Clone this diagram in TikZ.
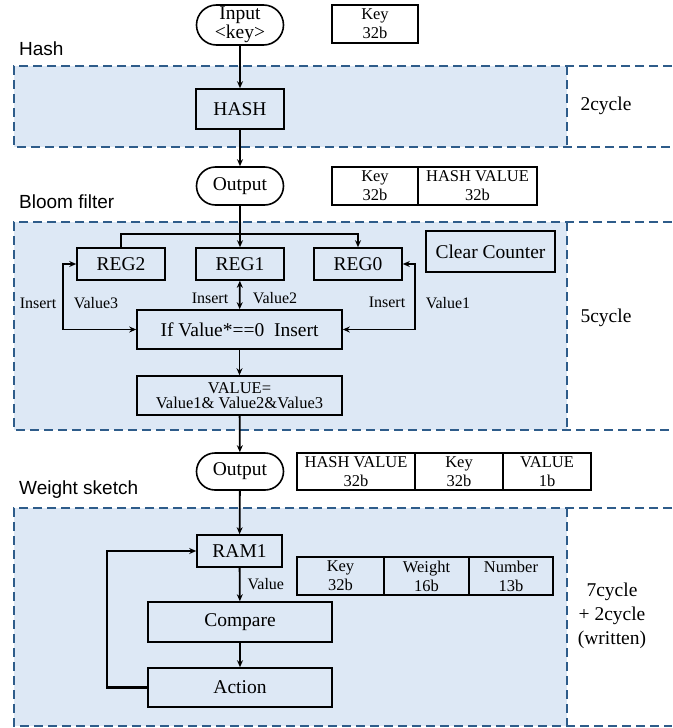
\documentclass[tikz,border=0pt]{standalone}
\usepackage{fontspec}
\setmainfont{Liberation Serif}
\newfontfamily\labelfont{Liberation Sans}
\usetikzlibrary{shapes.misc}
\usetikzlibrary{arrows.meta}
\definecolor{panelblue}{HTML}{DDE8F5}
\definecolor{dashblue}{HTML}{2E5C8A}
\tikzstyle{block}=[draw, line width=1.6pt, inner sep=2pt, font=\fontsize{19.5}{19.5}\selectfont]
\tikzstyle{terminal}=[block, rounded rectangle, minimum width=91pt, minimum height=38pt, align=center]
\tikzstyle{field}=[draw, line width=1.6pt, inner sep=0pt, outer sep=0pt, minimum height=38pt, align=center, anchor=west, font=\fontsize{16.5}{19}\selectfont]
\tikzstyle{tag}=[inner sep=0pt, font=\fontsize{16}{16}\selectfont]
\tikzstyle{stage}=[inner sep=0pt, anchor=base west, font=\labelfont\fontsize{19}{19}\selectfont]
\tikzstyle{cyclenote}=[inner sep=0pt, align=center, font=\fontsize{19.5}{24}\selectfont]
\tikzstyle{panel}=[draw=dashblue, line width=1.8pt, dash pattern=on 9pt off 5pt]
\tikzstyle{flow}=[line width=1.8pt, ->]

\begin{document}
\begin{tikzpicture}[x=1pt, y=-1pt, >={Stealth[length=7pt, width=6pt]}]
    \useasboundingbox (0,0) rectangle (672,728);
    % stage panels
    \fill[panelblue] (14,66) rectangle (567,147);
    \fill[panelblue] (14,222) rectangle (567,430);
    \fill[panelblue] (14,508) rectangle (567,726);
    \draw[panel] (672,66) -- (14,66) -- (14,147) -- (672,147);
    \draw[panel] (567,66) -- (567,147);
    \draw[panel] (672,222) -- (14,222) -- (14,430) -- (672,430);
    \draw[panel] (567,222) -- (567,430);
    \draw[panel] (672,508) -- (14,508) -- (14,726) -- (672,726);
    \draw[panel] (567,508) -- (567,726);
    \node[stage] (hashlbl)   at (19,55)  {Hash};
    \node[stage] (bloomlbl)  at (19,208) {Bloom filter};
    \node[stage] (weightlbl) at (19,494) {Weight sketch};

    % hash
    \node[terminal, minimum height=40pt, font=\fontsize{19.5}{15}\selectfont] (in) at (240,25) {Input\\<key>};
    \node[block, minimum width=88pt, minimum height=40pt] (hash) at (240,109) {HASH};
    \node[terminal] (out1) at (240,186) {Output};
    \node[field, minimum width=86pt] (key0) at (332,24) {Key\\32b};
    \node[field, minimum width=86pt] (key1) at (332,186) {Key\\32b};
    \node[field, minimum width=119pt] (hv1) at (key1.east) {HASH VALUE\\32b};
    \node[cyclenote] (c2) at (606,106) {2cycle};

    % bloom filter
    \node[block, minimum width=88pt, minimum height=32pt] (reg2) at (121,264) {REG2};
    \node[block, minimum width=88pt, minimum height=32pt] (reg1) at (240,264) {REG1};
    \node[block, minimum width=88pt, minimum height=32pt] (reg0) at (358,264) {REG0};
    \node[block, minimum width=129pt, minimum height=41pt] (clr) at (490.5,251.5) {Clear Counter};
    \node[block, minimum width=205pt, minimum height=39pt] (ifbox) at (239.5,329.5) {If Value*==0\ \ Insert};
    \node[block, minimum width=205pt, minimum height=39pt, align=center,
          font=\fontsize{16.5}{15.5}\selectfont] (valbox) at (239.5,395.5) {VALUE=\\Value1\& Value2\&Value3};
    \node[tag] (ins2) at (38,303)  {Insert};
    \node[tag] (val3) at (96,303)  {Value3};
    \node[tag] (ins1) at (210,298) {Insert};
    \node[tag] (val2) at (275,298) {Value2};
    \node[tag] (ins0) at (387,302) {Insert};
    \node[tag] (val1) at (448,303) {Value1};
    \node[cyclenote] (c5) at (606,318) {5cycle};

    % weight sketch
    \node[terminal, minimum height=37pt] (out2) at (240,471.5) {Output};
    \node[field, minimum width=118pt, minimum height=37pt] (hv2) at (297,471.5) {HASH VALUE\\32b};
    \node[field, minimum width=88pt, minimum height=37pt] (key2) at (hv2.east) {Key\\32b};
    \node[field, minimum width=88pt, minimum height=37pt] (bit2) at (key2.east) {VALUE\\1b};
    \node[block, minimum width=85pt, minimum height=32pt] (ram) at (239.5,551) {RAM1};
    \node[field, minimum width=87pt] (key3) at (297,576) {Key\\32b};
    \node[field, minimum width=85pt] (wt3) at (key3.east) {Weight\\16b};
    \node[field, minimum width=84pt] (num3) at (wt3.east) {Number\\13b};
    \node[block, minimum width=184pt, minimum height=40pt] (cmp) at (240,622) {Compare};
    \node[block, minimum width=184pt, minimum height=39pt] (act) at (240,687.5) {Action};
    \node[cyclenote] (c7) at (612,616) {7cycle\\+ 2cycle\\(written)};

    % connectors
    \coordinate (split) at (240,234);
    \draw[flow] (in) -- (hash);
    \draw[flow] (hash) -- (out1);
    \draw[flow] (out1) -- (reg1);
    \draw[line width=1.8pt] (reg2.north) |- (split);
    \draw[flow] (split) -| (reg0.north);
    \draw[flow, <->] (reg2.west) -- ++(-13,0) |- (ifbox.west);
    \draw[flow, <->] (reg0.east) -- ++(12,0) |- (ifbox.east);
    \draw[flow, <->] (reg1) -- (ifbox);
    \draw[flow] (ifbox) -- (valbox);
    \draw[flow] (valbox) -- (out2);
    \draw[flow] (out2) -- (ram);
    \draw[flow] (ram) -- node[tag, right=7pt] {Value} (cmp);
    \draw[flow] (cmp) -- (act);
    \draw[flow, line width=2.4pt] (act.west) -- ++(-40,0) |- (ram.west);
\end{tikzpicture}
\end{document}
